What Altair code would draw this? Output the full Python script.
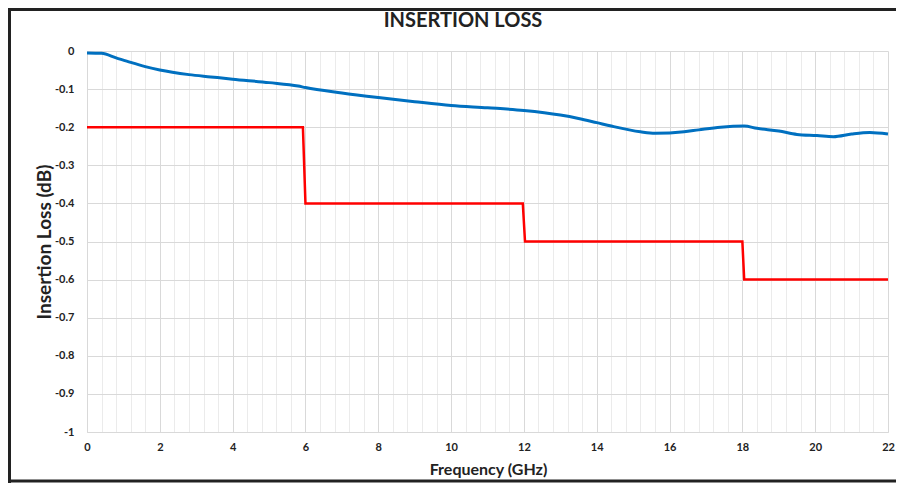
import altair as alt
import pandas as pd

# Measured insertion loss (blue)
freq_meas = [0, 0.4, 0.8, 1.2, 1.6, 2.0, 2.8, 3.4, 4.0, 5.0, 5.8, 6.0, 7.0, 8.0, 9.0,
             10.0, 11.0, 12.0, 13.0, 13.5, 14.0, 14.4, 15.2, 15.6, 16.4, 16.8, 17.4,
             18.05, 18.4, 19.0, 19.5, 20.05, 20.5, 21.0, 21.5, 22.0]
loss_meas = [-0.005, -0.006, -0.018, -0.030, -0.041, -0.050, -0.062, -0.068, -0.074,
             -0.083, -0.092, -0.096, -0.110, -0.122, -0.133, -0.143, -0.149, -0.156,
             -0.168, -0.177, -0.188, -0.197, -0.212, -0.216, -0.212, -0.207, -0.200,
             -0.197, -0.203, -0.210, -0.219, -0.222, -0.225, -0.218, -0.214, -0.218]

# Specification limit (red)
freq_spec = [0, 5.93, 6.0, 11.97, 12.03, 18.0, 18.05, 22]
loss_spec = [-0.2, -0.2, -0.4, -0.4, -0.5, -0.5, -0.6, -0.6]

x_ticks = [round(i * 0.4, 1) for i in range(56)]
y_ticks = [0, -0.1, -0.2, -0.3, -0.4, -0.5, -0.6, -0.7, -0.8, -0.9, -1]

title_text = "INSERTION LOSS"

meas = pd.DataFrame({"f": freq_meas, "l": loss_meas, "o": range(len(freq_meas))})
spec = pd.DataFrame({"f": freq_spec, "l": loss_spec, "o": range(len(freq_spec))})

FONT = "Lato"

x_enc = alt.X(
    "f:Q",
    scale=alt.Scale(domain=[0, 22], nice=False, zero=False),
    axis=alt.Axis(
        values=x_ticks,
        tickCount=200,
        labelExpr="datum.value % 2 === 0 ? format(datum.value, 'd') : ''",
        labelOverlap=False,
        labelFlush=False,
        grid=True,
        gridColor={"condition": {"test": "datum.value % 2 === 0", "value": "#d9d9d9"},
                   "value": "#ebebeb"},
        gridWidth=1,
        ticks=False,
        domainColor="#d9d9d9",
        labelFont=FONT, labelFontWeight="bold", labelFontSize=11, labelColor="#222",
        labelPadding=9,
        title="Frequency (GHz)",
        titleFont=FONT, titleFontWeight="bold", titleFontSize=16, titleColor="#222",
        titleX=401, titleY=37, titleBaseline="middle",
    ),
)
y_enc = alt.Y(
    "l:Q",
    scale=alt.Scale(domain=[-1, 0], nice=False, zero=False),
    axis=alt.Axis(
        values=y_ticks,
        tickCount=50,
        labelExpr="datum.value == 0 ? '0' : '-' + format(-datum.value, '')",
        labelOverlap=False,
        labelFlush=False,
        grid=True, gridColor="#d9d9d9", ticks=False,
        domainColor="#d9d9d9",
        labelFont=FONT, labelFontWeight="bold", labelFontSize=11, labelColor="#222",
        labelPadding=13,
        title="Insertion Loss (dB)",
        titleFont=FONT, titleFontWeight="bold", titleFontSize=19, titleColor="#222",
        titleX=-43, titleY=190.5, titleBaseline="middle", titleAngle=-90,
    ),
)

blue = alt.Chart(meas).mark_line(color="#0070C0", strokeWidth=3, interpolate="monotone").encode(
    x=x_enc, y=y_enc, order="o:Q")
red = alt.Chart(spec).mark_line(color="#FF0000", strokeWidth=2.5).encode(
    x=alt.X("f:Q"), y=alt.Y("l:Q"), order="o:Q")

one = alt.Data(values=[{"t": title_text}])
frame_left = alt.Chart(one).mark_rule(color="#222", strokeWidth=3).encode(
    x=alt.value(-77.5), y=alt.value(-43), y2=alt.value(432))
frame_top = alt.Chart(one).mark_rule(color="#222", strokeWidth=3).encode(
    x=alt.value(-79), x2=alt.value(809), y=alt.value(-41.5))
frame_bottom = alt.Chart(one).mark_rule(color="#222", strokeWidth=3).encode(
    x=alt.value(-79), x2=alt.value(809), y=alt.value(430))
title = alt.Chart(one).mark_text(font=FONT, fontSize=20, fontWeight="bold", color="#222",
                                 align="center", baseline="middle").encode(
    text="t:N", x=alt.value(376), y=alt.value(-30))

chart = alt.layer(blue, red, frame_left, frame_top, frame_bottom, title).properties(
    width=801, height=381,
    autosize=alt.AutoSizeParams(type="none"),
    padding={"left": 79, "top": 43, "right": 8, "bottom": 51},
).configure_view(stroke=None)

chart.save("out.html", embed_options={"renderer": "svg", "actions": False})
